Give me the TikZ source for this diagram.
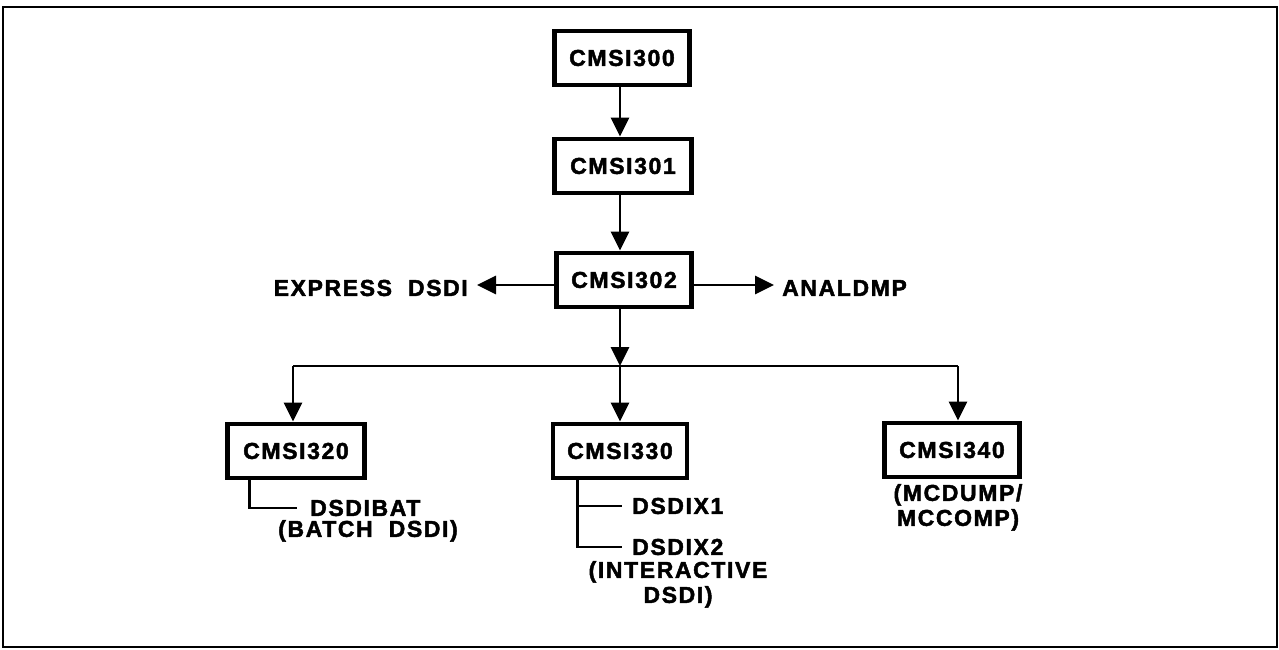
\documentclass[tikz,border=0pt]{standalone}
\usepackage{fontspec}
\setmainfont{Liberation Sans}[LetterSpace=7,BoldFeatures={FakeBold=2}]
\usetikzlibrary{arrows.meta}
\begin{document}
\begin{tikzpicture}[x=1pt,y=-1pt,
  every node/.style={font=\fontsize{23}{26}\selectfont\bfseries, inner sep=0pt},
  box/.style={draw, line width=4.8pt, minimum height=54pt, align=center},
  lab/.style={align=center},
  conn/.style={line width=2.9pt},
  arr/.style={conn, -{Triangle[length=19pt,width=18pt]}}]
\useasboundingbox (0,0) rectangle (1279,650);
\draw[line width=2.5pt] (3,7) rectangle (1277,647);
% boxes
\node[box, minimum width=135pt] (b300) at (622,58) {CMSI300};
\node[box, minimum width=137pt] (b301) at (623,166) {CMSI301};
\node[box, minimum width=135pt] (b302) at (624,280) {CMSI302};
\node[box, minimum width=137pt] (b320) at (296,451) {CMSI320};
\node[box, minimum width=134pt] (b330) at (620,451) {CMSI330};
\node[box, minimum width=135pt] (b340) at (952,450) {CMSI340};
% labels
\node[lab, anchor=east] (express) at (468,288) {EXPRESS\ \ DSDI};
\node[lab, anchor=west] (anal) at (782,288) {ANALDMP};
\node[lab, anchor=west] (dsdibat) at (310,508) {DSDIBAT};
\node[lab, anchor=north] (batch) at (368,520) {(BATCH\ \ DSDI)};
\node[lab, anchor=west] (x1) at (632,506) {DSDIX1};
\node[lab, anchor=west] (x2) at (632,547) {DSDIX2};
\node[lab, anchor=north] (inter) at (678,561) {(INTERACTIVE\\[-1pt]DSDI)};
\node[lab, anchor=north] (mc) at (958,484) {(MCDUMP/\\[-1pt]MCCOMP)};
% connectors
\coordinate (ly) at (0,285);
\coordinate (jl) at (293,366);
\coordinate (jm) at (620,366);
\coordinate (jr) at (958,366);
\draw[arr] (b300.south -| jm) -- (b301.north -| jm);
\draw[arr] (b301.south -| jm) -- (b302.north -| jm);
\draw[arr] (b302.west |- ly) -- ([xshift=9pt]express.east |- ly);
\draw[arr] (b302.east |- ly) -- ([xshift=-8pt]anal.west |- ly);
\draw[arr] (b302.south -| jm) -- (jm);
\draw[conn] (jl) -- (jr);
\draw[arr] (jl) -- (b320.north -| jl);
\draw[arr] (jm) -- (b330.north -| jm);
\draw[arr] (jr) -- (b340.north -| jr);
\draw[conn] (b320.south west) ++(24,0) |- ([xshift=-13pt]dsdibat.west);
\draw[conn] (b330.south west) ++(27,0) |- ([xshift=-10pt]x2.west);
\draw[conn] (b330.south west) ++(27,0) |- ([xshift=-10pt]x1.west);
\end{tikzpicture}
\end{document}
